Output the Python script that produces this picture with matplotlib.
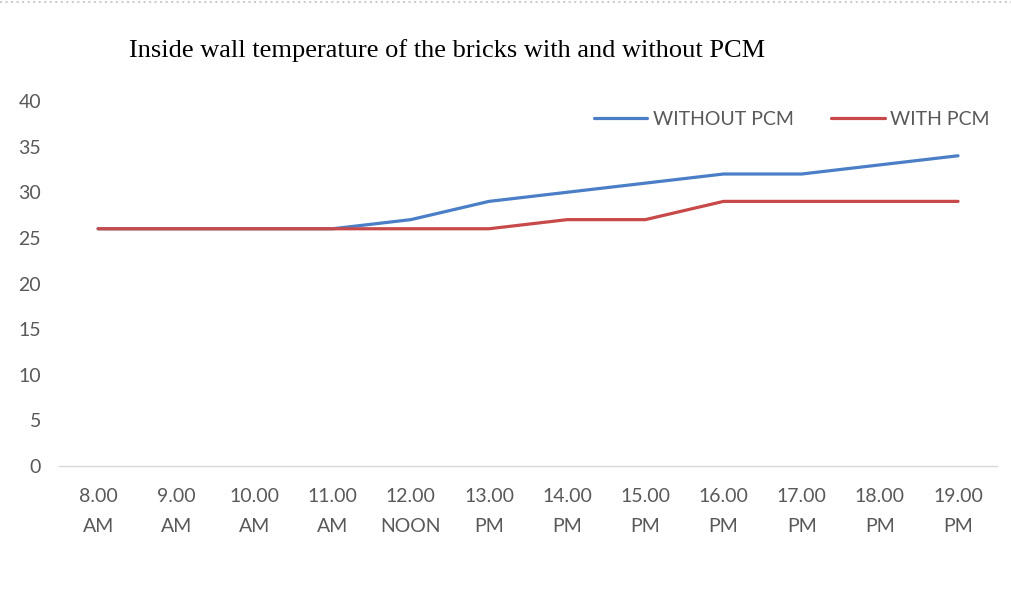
import matplotlib.pyplot as plt
from matplotlib.lines import Line2D

# data
times = ["8.00\nAM", "9.00\nAM", "10.00\nAM", "11.00\nAM", "12.00\nNOON", "13.00\nPM",
         "14.00\nPM", "15.00\nPM", "16.00\nPM", "17.00\nPM", "18.00\nPM", "19.00\nPM"]
without_pcm = [26, 26, 26, 26, 27, 29, 30, 31, 32, 32, 33, 34]
with_pcm = [26, 26, 26, 26, 26, 26, 27, 27, 29, 29, 29, 29]

label_font = "Lato"
grey = "#595959"

fig = plt.figure(figsize=(10.12, 6.14), dpi=100)
ax = fig.add_axes([0.0583, 0.241, 0.927, 0.5945])

x = list(range(len(times)))
ax.plot(x, without_pcm, color="#4A7EC6", lw=2.3, label="WITHOUT PCM", solid_capstyle="round")
ax.plot(x, with_pcm, color="#C8494A", lw=2.3, label="WITH PCM", solid_capstyle="round")

ax.set_xlim(-0.5, len(times) - 0.5)
ax.set_ylim(0, 40)
ax.set_yticks(range(0, 41, 5))
ax.set_xticks(x)
ax.set_xticklabels(times, fontfamily=label_font, fontsize=14, color=grey, linespacing=1.9)
for t in ax.get_yticklabels():
    t.set_fontfamily(label_font)
    t.set_fontsize(14)
    t.set_color(grey)

for s in ["top", "right", "left"]:
    ax.spines[s].set_visible(False)
ax.spines["bottom"].set_color("#D9D9D9")
ax.spines["bottom"].set_linewidth(1)
ax.tick_params(axis="both", length=0)
ax.tick_params(axis="x", pad=16)
ax.tick_params(axis="y", pad=13)

fig.text(0.442, 0.917, "Inside wall temperature of the bricks with and without PCM",
         fontfamily="Liberation Serif", fontsize=19, ha="center", va="center")

leg = ax.legend(loc="upper right", bbox_to_anchor=(1.011, 1.02), ncol=2, frameon=False,
                handlelength=2.75, handletextpad=0.3, columnspacing=1.9,
                prop={"family": label_font, "size": 14})
for t in leg.get_texts():
    t.set_color(grey)

# dotted border at the top of the image
fig.add_artist(Line2D([0, 1], [0.996, 0.996], transform=fig.transFigure,
                      color="#CCCCCC", lw=1.5, ls=":"))

fig.savefig("out.png", dpi=100)
